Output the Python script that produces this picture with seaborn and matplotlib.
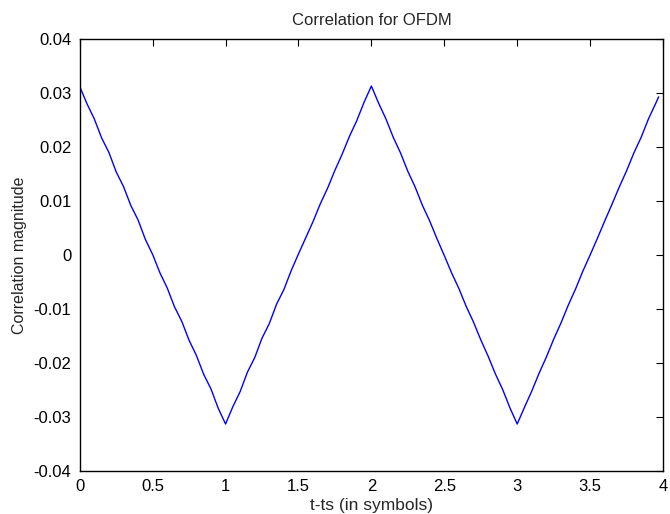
import numpy as np
import pandas as pd
import matplotlib
matplotlib.use("Agg")
import matplotlib.pyplot as plt
import seaborn as sns

# sample positions (symbols) and correlation values
t = list(np.round(np.arange(0, 3.951, 0.05), 2)) + [3.97]
corr = [
    0.0312, 0.0280, 0.0252, 0.0217, 0.0190, 0.0154, 0.0127, 0.0092, 0.0065, 0.0029,
    0.0001, -0.0033, -0.0061, -0.0096, -0.0123, -0.0158, -0.0186, -0.0221, -0.0248, -0.0284,
    -0.0313,
    -0.0281, -0.0253, -0.0217, -0.0190, -0.0154, -0.0127, -0.0091, -0.0064, -0.0029, 0.0002,
    0.0032, 0.0062, 0.0095, 0.0124, 0.0157, 0.0187, 0.0220, 0.0249, 0.0283, 0.0313,
    0.0281, 0.0252, 0.0218, 0.0189, 0.0155, 0.0126, 0.0092, 0.0063, 0.0030, -0.0001,
    -0.0033, -0.0062, -0.0095, -0.0124, -0.0157, -0.0187, -0.0220, -0.0249, -0.0283, -0.0313,
    -0.0282, -0.0252, -0.0219, -0.0189, -0.0156, -0.0126, -0.0093, -0.0063, -0.0030, 0.0000,
    0.0031, 0.0063, 0.0094, 0.0126, 0.0156, 0.0189, 0.0218, 0.0252, 0.0281, 0.0293,
]
xticks = [0, 0.5, 1, 1.5, 2, 2.5, 3, 3.5, 4]
xlabels = ['0', '0.5', '1', '1.5', '2', '2.5', '3', '3.5', '4']
yticks = [-0.04, -0.03, -0.02, -0.01, 0, 0.01, 0.02, 0.03, 0.04]
ylabels = ['-0.04', '-0.03', '-0.02', '-0.01', '0', '0.01', '0.02', '0.03', '0.04']

df = pd.DataFrame({'t': t, 'corr': corr})

sns.set_style("white")
plt.rcParams['font.family'] = ['Liberation Sans', 'DejaVu Sans']

fig = plt.figure(figsize=(6.7, 5.14), dpi=100)
ax = fig.add_axes([0.119, 0.0837, 0.8706, 0.8403])
sns.lineplot(data=df, x='t', y='corr', color='#0000ff', linewidth=1.0, sort=False, ax=ax)

ax.set_xlim(0, 4)
ax.set_ylim(-0.04, 0.04)
ax.set_xticks(xticks)
ax.set_xticklabels(xlabels)
ax.set_yticks(yticks)
ax.set_yticklabels(ylabels)
ax.tick_params(direction='in', top=True, right=True, length=5, width=0.8,
               labelsize=12, colors='black', pad=6)
for s in ax.spines.values():
    s.set_color('black')
    s.set_linewidth(1.0)

ax.set_title('Correlation for OFDM', fontsize=12, pad=10)
ax.set_xlabel('t-ts (in symbols)', fontsize=12.5, labelpad=3)
ax.set_ylabel('Correlation magnitude', fontsize=11.5, labelpad=5)

fig.savefig('out.png', dpi=100)
